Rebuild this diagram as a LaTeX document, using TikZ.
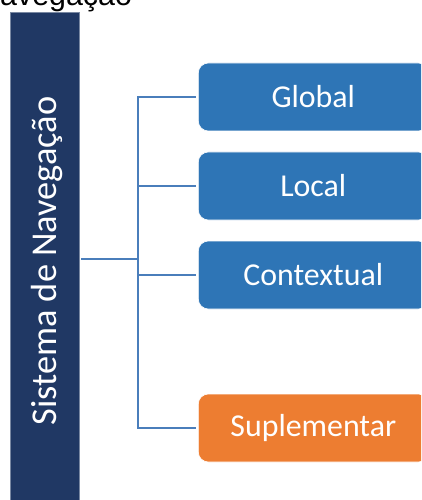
\documentclass[tikz,border=0pt]{standalone}
\usepackage{fontspec}
\setmainfont{Carlito}
\newfontfamily\titlefont{Liberation Sans}
\definecolor{barblue}{HTML}{203864}
\definecolor{boxblue}{HTML}{2E75B6}
\definecolor{boxorange}{HTML}{ED7D31}
\definecolor{linkblue}{HTML}{4A7EBB}
\begin{document}
\begin{tikzpicture}[x=1bp,y=-1bp,
  conn/.style={draw=linkblue,line width=2.5bp},
  catbox/.style={rectangle,rounded corners=10bp,anchor=west,minimum width=230bp,minimum height=68bp,
    inner sep=0pt,text=white,font=\fontsize{32}{38}\selectfont,draw=white,line width=0.6bp},
  bluebox/.style={catbox,fill=boxblue},
  orangebox/.style={catbox,fill=boxorange}]
\useasboundingbox (0,0) rectangle (421,500);
\clip (0,0) rectangle (421,500);
\node[anchor=base west,inner sep=0pt,font=\titlefont\fontsize{30.5}{36}\selectfont] (title) at (0,6) {avegação};
\node[rectangle,fill=barblue,draw=barblue!60!white,line width=0.6bp,minimum width=69bp,minimum height=494bp,inner sep=0pt] (bar) at (44.5,259) {};
\node[rotate=90,text=white,inner sep=0pt,font=\fontsize{36.5}{42}\selectfont] (bartext) at (47,261) {Sistema de Navegação};
\node[bluebox] (g) at (198,97) {Global};
\node[bluebox] (l) at (198,186) {Local};
\node[bluebox] (c) at (198,275) {Contextual};
\node[orangebox] (s) at (198,428) {Suplementar};
\coordinate (ttop) at (138,97);
\coordinate (tbot) at (138,428);
\draw[conn] ([xshift=2bp]bar.east) -- (bar.east -| ttop);
\draw[conn,line cap=rect] (ttop) -- (tbot);
\draw[conn] (g.west -| ttop) -- ([xshift=-2bp]g.west);
\draw[conn] (l.west -| ttop) -- ([xshift=-2bp]l.west);
\draw[conn] (c.west -| ttop) -- ([xshift=-2bp]c.west);
\draw[conn] (s.west -| ttop) -- ([xshift=-2bp]s.west);
\end{tikzpicture}
\end{document}
